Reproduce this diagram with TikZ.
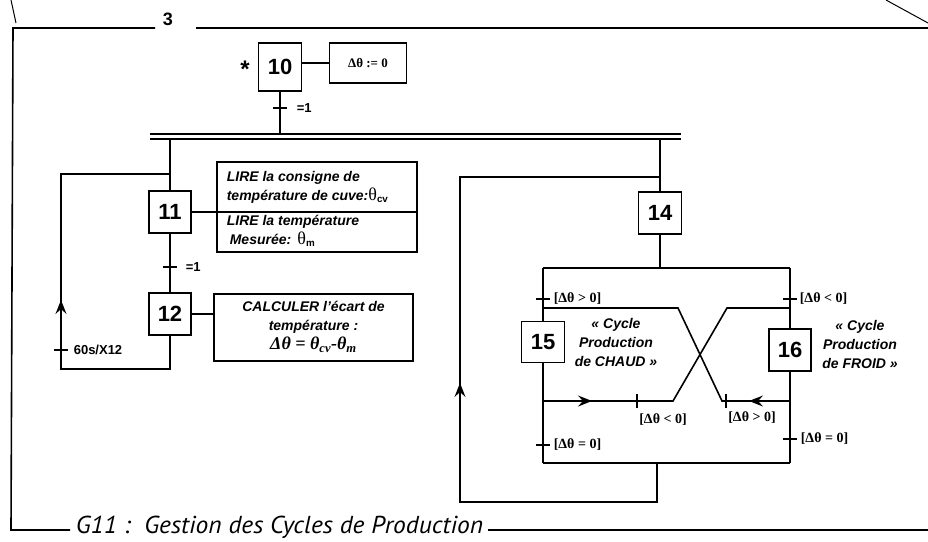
\documentclass[tikz,border=0pt]{standalone}
\usepackage{fontspec}
\usepackage{graphicx}
\setmainfont{Liberation Sans}
\newfontfamily\serif{Liberation Serif}
\newfontfamily\titlefont{PT Sans}
\usetikzlibrary{arrows.meta}
\begin{document}
\begin{tikzpicture}[x=1pt,y=-1pt, line width=1.6pt,
 stepbox/.style={draw, minimum width=42pt, minimum height=42pt, inner sep=0pt, font=\bfseries\fontsize{22}{22}\selectfont},
 actbox/.style={draw, inner sep=0pt},
 lbl/.style={font=\bfseries\fontsize{13}{13}\selectfont, anchor=west, inner sep=0pt},
 cond/.style={font=\serif\bfseries\fontsize{14}{14}\selectfont, inner sep=0pt},
 act/.style={font=\bfseries\itshape\fontsize{14}{19}\selectfont},
 arr/.style={-{Stealth[length=14pt,width=11pt,inset=5pt]}}
]
\useasboundingbox (0,0) rectangle (928,541);
% frame
\coordinate (fa) at (155,28); \coordinate (fb) at (13,28);
\coordinate (fc) at (11,530); \coordinate (fd) at (70,530);
\coordinate (fe) at (196,28); \coordinate (ff) at (928,28);
\coordinate (fg) at (928,530);
\draw (fa) -- (fb) -- (fc) -- (fd);
\draw (fe) -- (ff);
\node[font=\bfseries\fontsize{18}{18}\selectfont] (num) at (168,19) {3};
\draw[line width=1pt] (11,0) -- (16,23);
\draw[line width=1pt] (886,0) -- (928,23);
\node[anchor=west, inner sep=0pt, font=\titlefont\itshape\fontsize{24.5}{24.5}\selectfont] (title) at (75,527) {\scalebox{1.04}[1]{G11 :\ \ Gestion des Cycles de Production}};
\draw (title.east |- fg) ++(4,0) coordinate (fh) -- (fg);

% step 10
\node[stepbox, minimum width=43pt, minimum height=48pt] (s10) at (280,67) {10};
\node[font=\bfseries\fontsize{24}{24}\selectfont] (star) at (245,69) {*};
\node[actbox, minimum width=77pt, minimum height=40pt, font=\serif\bfseries\fontsize{13}{13}\selectfont] (a10) at (368,63) {Δθ := 0};
\draw (s10.east |- a10.west) -- (a10.west);
% double bar
\coordinate (b1w) at (150,134); \coordinate (b1e) at (681,134);
\coordinate (b2w) at (150,139); \coordinate (b2e) at (681,139);
\draw (b1w) -- (b1e);
\draw (b2w) -- (b2e);
\draw (s10.south) -- (s10.south |- b1w);
\coordinate (t10) at (280,108);
\draw ([xshift=-7pt]t10) -- ([xshift=7pt]t10);
\node[lbl] (l10) at (296,108) {=1};

% left branch
\node[stepbox] (s11) at (170,212) {11};
\draw (s11.north |- b2w) -- (s11.north);
\node[actbox, minimum width=200pt, minimum height=50pt] (a11a) at (317,187) {};
\node[actbox, minimum width=200pt, minimum height=40pt] (a11b) at (317,232) {};
\node[act, anchor=west, align=left, inner sep=0pt] (x11a) at (226,187) {LIRE la consigne de\\température de cuve:{\serif\mdseries\upshape\fontsize{18}{18}\selectfont θ}\textsubscript{\upshape cv}};
\node[act, anchor=west, align=left, inner sep=0pt] (x11b) at (226,231) {LIRE la température\\\hspace*{3pt}Mesurée:\ \,{\serif\mdseries\upshape\fontsize{18}{18}\selectfont θ}\textsubscript{\upshape m}};
\draw (s11.east) -- (s11.east -| a11a.west);
\coordinate (t11) at (170,267);
\draw (s11.south) -- (t11);
\draw ([xshift=-7pt]t11) -- ([xshift=7pt]t11);
\node[lbl] (l11) at (185,267) {=1};
\node[stepbox] (s12) at (170,314) {12};
\draw (t11) -- (s12.north);
\node[actbox, minimum width=199pt, minimum height=67pt] (a12) at (313.5,327.5) {};
\node[act, align=center, inner sep=0pt] (x12) at (313.5,327) {CALCULER l'écart de\\température :\\{\serif\bfseries\itshape\fontsize{18}{18}\selectfont Δθ = θ\textsubscript{cv}-θ\textsubscript{m}}};
\draw (s12.east) -- (s12.east -| a12.west);
% loop left
\coordinate (la) at (170,369); \coordinate (lb) at (61,369);
\coordinate (lc) at (61,174); \coordinate (ld) at (170,174);
\draw (s12.south) -- (la) -- (lb) -- (lc) -- (ld);
\coordinate (laa) at (61,318); \coordinate (lab) at (61,300);
\draw[arr] (laa) -- (lab);
\coordinate (tl) at (61,350);
\draw ([xshift=-7pt]tl) -- ([xshift=7pt]tl);
\node[lbl] (ll) at (73,350) {60s/X12};

% right branch
\node[stepbox, minimum width=43pt] (s14) at (660,213) {14};
\draw (s14.north |- b2w) -- (s14.north);
\coordinate (ou) at (660,268);
\coordinate (oul) at (543,268); \coordinate (our) at (790,268);
\draw (s14.south) -- (ou);
\draw (oul) -- (our);
\node[stepbox, minimum width=43pt, minimum height=41pt] (s15) at (543,342) {15};
\node[stepbox] (s16) at (790,350) {16};
\draw (oul) -- (s15.north);
\draw (our) -- (s16.north);
\coordinate (t15) at (543,299); \coordinate (t16) at (790,299);
\draw ([xshift=-7pt]t15) -- ([xshift=7pt]t15);
\draw ([xshift=-7pt]t16) -- ([xshift=7pt]t16);
\node[cond, anchor=west] (c15) at (553,299) {[Δθ > 0]};
\node[cond, anchor=west] (c16) at (799,299) {[Δθ < 0]};
% cross
\coordinate (x1) at (543,308); \coordinate (x2) at (678,308);
\coordinate (x3) at (722,401); \coordinate (x4) at (790,401);
\coordinate (y1) at (543,401); \coordinate (y2) at (673,401);
\coordinate (y3) at (727,308); \coordinate (y4) at (790,308);
\draw (x1) -- (x2) -- (x3) -- (x4);
\draw (y1) -- (y2) -- (y3) -- (y4);
\coordinate (ya) at (565,401); \coordinate (yb) at (592,401);
\draw[arr] (ya) -- (yb);
\coordinate (xa) at (776,401); \coordinate (xb) at (749,401);
\draw[arr] (xa) -- (xb);
\coordinate (tc1) at (637,401); \coordinate (tc2) at (726,401);
\draw ([yshift=-7pt]tc1) -- ([yshift=7pt]tc1);
\draw ([yshift=-7pt]tc2) -- ([yshift=7pt]tc2);
\node[cond] (cc1) at (663,420) {[Δθ < 0]};
\node[cond] (cc2) at (752,418) {[Δθ > 0]};
\node[act, align=center, inner sep=0pt] (chaud) at (616,342) {« Cycle\\Production\\de CHAUD »};
\node[act, align=center, inner sep=0pt] (froid) at (860,344) {« Cycle\\Production\\de FROID »};
% convergence
\coordinate (cl) at (543,463); \coordinate (cr) at (790,463);
\draw (s15.south) -- (cl);
\draw (s16.south) -- (cr);
\draw (cl) -- (cr);
\coordinate (t15b) at (543,445); \coordinate (t16b) at (790,439);
\draw ([xshift=-7pt]t15b) -- ([xshift=7pt]t15b);
\draw ([xshift=-7pt]t16b) -- ([xshift=7pt]t16b);
\node[cond, anchor=west] (c15b) at (553,445) {[Δθ = 0]};
\node[cond, anchor=west] (c16b) at (800,439) {[Δθ = 0]};
% loop right
\coordinate (ra) at (657,463); \coordinate (rb) at (657,502);
\coordinate (rc) at (460,502); \coordinate (rd) at (460,177);
\coordinate (re) at (660,177);
\draw (ra) -- (rb) -- (rc) -- (rd) -- (re);
\coordinate (raa) at (460,401); \coordinate (rab) at (460,383);
\draw[arr] (raa) -- (rab);
\end{tikzpicture}
\end{document}
